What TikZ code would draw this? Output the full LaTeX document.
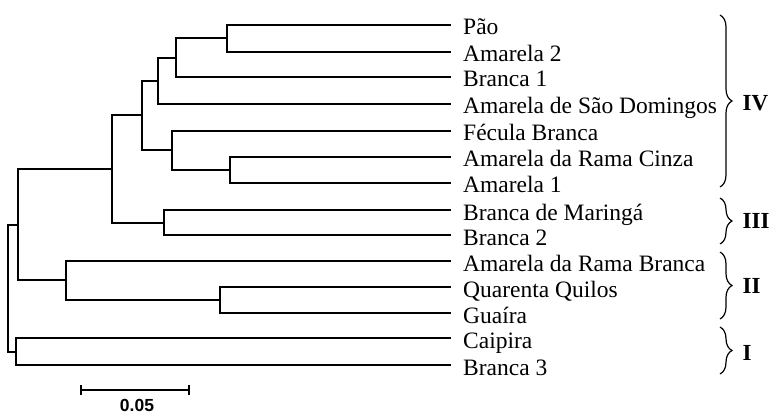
\documentclass[tikz,border=0pt]{standalone}
\usepackage{fontspec}
\setmainfont{Liberation Serif}
\newfontfamily\barfont{Liberation Sans}
\usetikzlibrary{decorations.pathreplacing}
\begin{document}
\begin{tikzpicture}[x=1pt,y=-1pt,
  br/.style={line width=2.6pt, line cap=rect},
  thinbr/.style={line width=1.7pt, line cap=rect},
  lab/.style={anchor=base west, inner sep=0pt, font=\fontsize{23.5}{25}\selectfont},
  grp/.style={decorate, decoration={brace, amplitude=12pt}, line width=1.2pt},
  glab/.style={anchor=west, inner sep=0pt, font=\fontsize{23}{25}\selectfont\bfseries}]
\useasboundingbox (0,0) rectangle (771,417);
% leaves
\foreach \n/\y/\t in {l1/25/Pão, l2/52/Amarela 2, l3/77/Branca 1, l4/104/Amarela de São Domingos,
  l5/131/Fécula Branca, l6/157/Amarela da Rama Cinza, l7/183/Amarela 1, l8/210/Branca de Maringá,
  l9/235/Branca 2, l10/261/Amarela da Rama Branca, l11/287/Quarenta Quilos, l12/313/Guaíra,
  l13/338/Caipira, l14/365/Branca 3}{
  \coordinate (\n) at (450,\y);
  \node[lab] (t\n) at (463,\y+10) {\t};
}
% internal nodes
\coordinate (a) at (227,38);
\coordinate (b) at (176,58);
\coordinate (c) at (158,81);
\coordinate (d) at (230,170);
\coordinate (e) at (172,150);
\coordinate (f) at (142,115);
\coordinate (g) at (164,223);
\coordinate (h) at (112,169);
\coordinate (i) at (220,300);
\coordinate (j) at (66,280);
\coordinate (k) at (18,225);
\coordinate (m) at (16,352);
\coordinate (r) at (8,300);
% edges
\draw[br] (a) |- (l1); \draw[br] (a) |- (l2);
\draw[br] (b) |- (a); \draw[br] (b) |- (l3);
\draw[br] (c) |- (b); \draw[br] (c) |- (l4);
\draw[br] (d) |- (l6); \draw[br] (d) |- (l7);
\draw[br] (e) |- (l5); \draw[br] (e) |- (d);
\draw[br] (f) |- (c); \draw[br] (f) |- (e);
\draw[br] (g) |- (l8); \draw[br] (g) |- (l9);
\draw[thinbr] (h) |- (f); \draw[br] (h) |- (g);
\draw[br] (i) |- (l11); \draw[br] (i) |- (l12);
\draw[br] (j) |- (l10); \draw[br] (j) |- (i);
\draw[thinbr] (k) |- (h); \draw[br] (k) |- (j);
\draw[br] (m) |- (l13); \draw[br] (m) |- (l14);
\draw[thinbr] (r) |- (k); \draw[thinbr] (r) |- (m);
% groups
\coordinate (b4t) at (720,15); \coordinate (b4b) at (720,187);
\coordinate (b3t) at (720,198); \coordinate (b3b) at (720,244);
\coordinate (b2t) at (720,252); \coordinate (b2b) at (720,319);
\coordinate (b1t) at (720,327); \coordinate (b1b) at (720,374);
\draw[grp] (b4t) -- (b4b) node[glab, midway, xshift=22pt, yshift=-2pt] (g4) {IV};
\draw[grp] (b3t) -- (b3b) node[glab, midway, xshift=22pt] (g3) {III};
\draw[grp] (b2t) -- (b2b) node[glab, midway, xshift=22pt] (g2) {II};
\draw[grp] (b1t) -- (b1b) node[glab, midway, xshift=22pt, yshift=-2pt] (g1) {I};
% scale bar
\coordinate (s1) at (81,390); \coordinate (s2) at (189,390);
\draw[line width=2.4pt] (s1) -- (s2);
\draw[line width=2.2pt] ([yshift=-5pt]s1) -- ([yshift=5pt]s1);
\draw[line width=2.2pt] ([yshift=-5pt]s2) -- ([yshift=5pt]s2);
\node[font=\barfont\bfseries\fontsize{17.5}{18}\selectfont, inner sep=0pt, anchor=base] (sl) at (137,411) {0.05};
\end{tikzpicture}
\end{document}
